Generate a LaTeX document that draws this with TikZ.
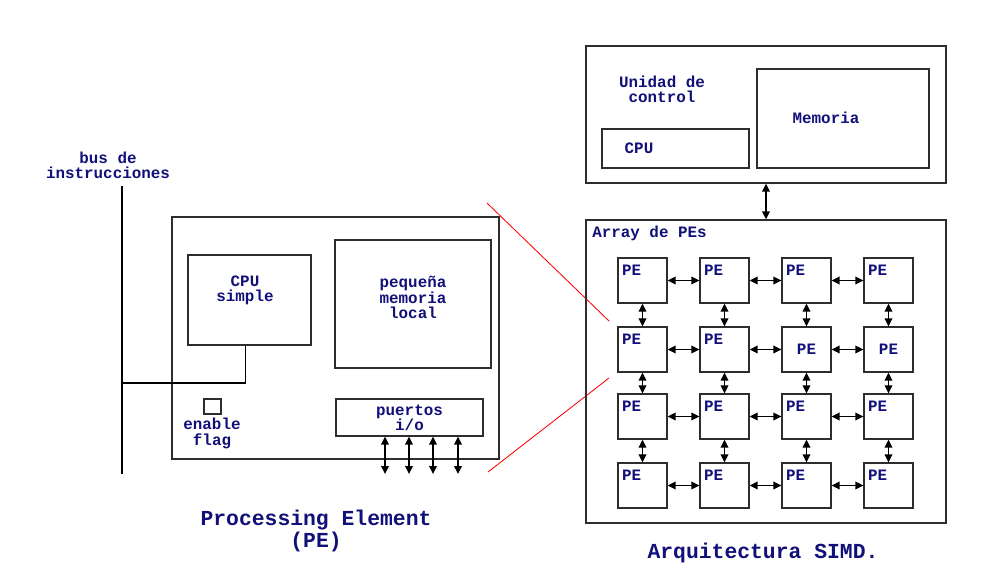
\documentclass[tikz,border=0pt]{standalone}
\usepackage{fontspec}
\setmonofont{Liberation Mono}
\usetikzlibrary{arrows.meta}
\definecolor{azul}{RGB}{16,16,120}
\definecolor{gris}{RGB}{45,45,45}
\tikzset{
	caja/.style={draw=gris, line width=0.9pt, inner sep=0pt},
	texto/.style={text=azul, font=\ttfamily\bfseries\fontsize{11.3}{10.8}\selectfont, align=center, inner sep=0pt},
	titulo/.style={text=azul, font=\ttfamily\bfseries\fontsize{15.2}{14.2}\selectfont, align=center, inner sep=0pt},
	peb/.style={caja, texto, minimum width=1.225cm, minimum height=1.125cm},
	pe/.style={peb, text width=1.025cm, align=left, inner xsep=0.1cm, inner ysep=0.1cm, text height=0.325cm, text depth=0.6cm},
	pec/.style={peb},
	flecha/.style={line width=1.1pt, {Triangle[length=2mm,width=1.9mm]}-{Triangle[length=2mm,width=1.9mm]}},
	bus/.style={line width=1.4pt},
	zoomline/.style={red, line width=0.6pt}
}

\begin{document}
\begin{tikzpicture}[x=0.025cm, y=-0.025cm]
		%%%%% START %%%%%
		\useasboundingbox (0,0) rectangle (1004,574);
		
		% processing element
		\node[caja, minimum width=8.175cm, minimum height=6.05cm] (pebox) at (335.5,338) {};
		\node[caja, minimum width=3.075cm, minimum height=2.25cm] (cpus) at (249.5,300) {};
		\node[texto] (cpustxt) at (245,290.5) {CPU\\simple};
		\node[caja, minimum width=3.9cm, minimum height=3.2cm] (memloc) at (413,304) {};
		\node[texto] (memloctxt) at (413,297.5) {pequeña\\memoria\\local};
		\node[caja, minimum width=0.425cm, minimum height=0.375cm] (flag) at (212.5,406.5) {};
		\node[texto] (flagtxt) at (212,433.5) {enable\\flag};
		\node[caja, texto, minimum width=3.675cm, minimum height=0.925cm] (puertos) at (409.5,417.5) {puertos\\i/o};
		
		\foreach \k/\x in {1/385,2/409,3/433,4/458}{
			\coordinate (io-\k) at (\x,474);
			\draw[flecha] (io-\k |- puertos.south) -- (io-\k);
		}
		
		% bus
		\node[texto] (bustxt) at (108,165.5) {bus de\\instrucciones};
		\coordinate (bus-top) at (122,186);
		\coordinate (bus-bot) at (122,474);
		\coordinate (bus-cpu) at (122,383);
		\draw[bus] (bus-top) -- (bus-bot);
		\draw[bus] (bus-cpu) -| ([xshift=-0.1cm]cpus.south);
		
		\node[titulo] (petitulo) at (316,531) {Processing Element\\(PE)};
		
		% zoom
		\coordinate (za) at (487,203);
		\coordinate (zb) at (609,321);
		\coordinate (zc) at (488,472);
		\coordinate (zd) at (609,378);
		\draw[zoomline] (za) -- (zb);
		\draw[zoomline] (zc) -- (zd);
		
		% unidad de control
		\node[caja, minimum width=9cm, minimum height=3.425cm] (uc) at (766,114.5) {};
		\node[texto] (uctxt) at (662,89) {Unidad de\\control};
		\node[caja, minimum width=3.675cm, minimum height=0.975cm] (cpu) at (675.5,148.5) {};
		\node[texto] (cputxt) at (639,148) {CPU};
		\node[caja, minimum width=4.3cm, minimum height=2.475cm] (mem) at (843,118.5) {};
		\node[texto] (memtxt) at (826,118) {Memoria};
		
		% array
		\node[caja, minimum width=9cm, minimum height=7.575cm] (array) at (766,371.5) {};
		\node[texto, anchor=west] (arraytxt) at (592,233) {Array de PEs};
		\draw[flecha] (uc.south) -- (array.north);
		
		\foreach \f/\y/\s in {1/280.5/pe,2/349.5/pec,3/416.5/pe,4/485.5/pe}{
			\foreach \c/\x in {1/642.5,2/724.5}
				\node[pe] (pe-\f-\c) at (\x,\y) {PE};
			\foreach \c/\x in {3/806.5,4/888.5}
				\node[\s] (pe-\f-\c) at (\x,\y) {PE};
		}
		\foreach \f in {1,2,3,4}
			\foreach \a/\b in {1/2,2/3,3/4}
				\draw[flecha] (pe-\f-\a.east) -- (pe-\f-\b.west);
		\foreach \c in {1,2,3,4}
			\foreach \a/\b in {1/2,2/3,3/4}
				\draw[flecha] (pe-\a-\c.south) -- (pe-\b-\c.north);
		
		\node[titulo] (simdtitulo) at (763,553) {Arquitectura SIMD.};
		%%%%% END %%%%%
	\end{tikzpicture}
\end{document}
